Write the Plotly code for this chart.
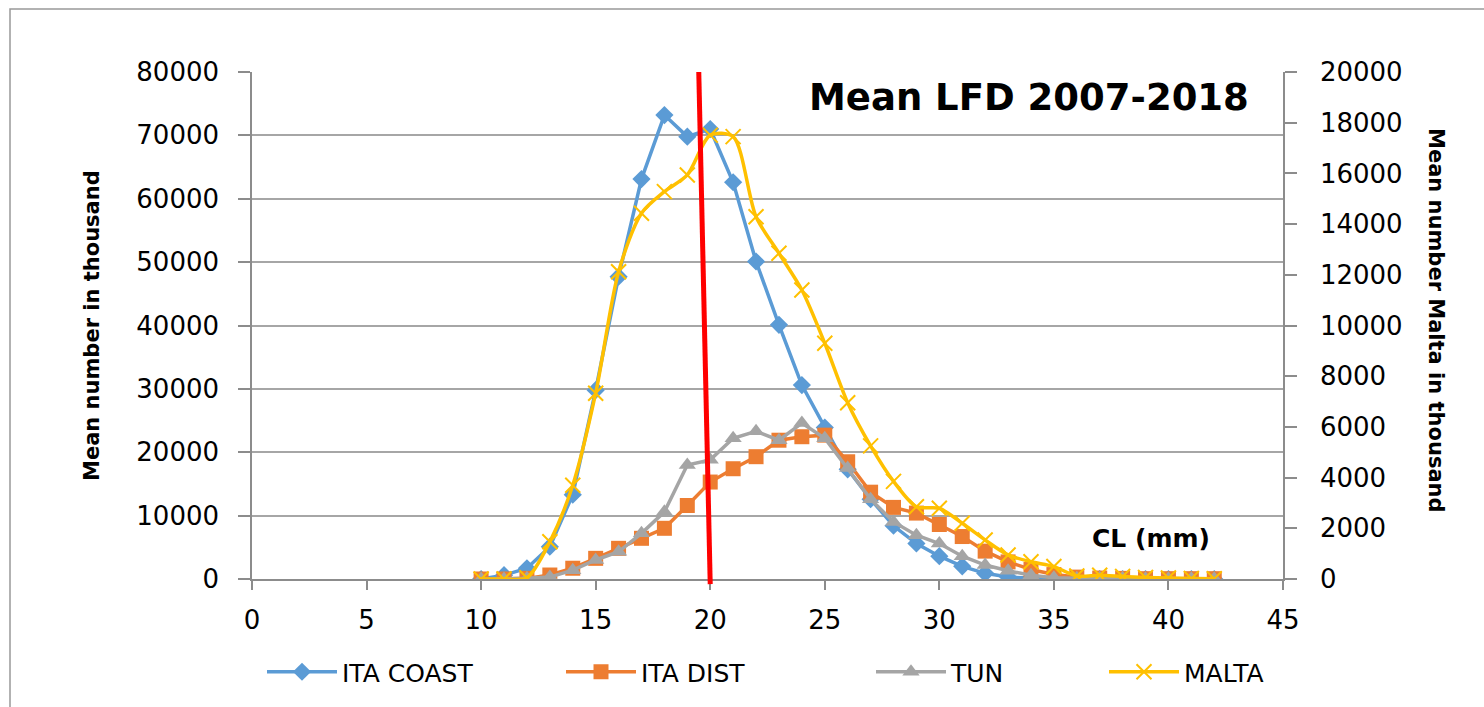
import plotly.graph_objects as go

# ---------------- data ----------------
cl_mm = list(range(10, 43))
ita_coast = [0, 600, 1700, 5100, 13300, 29800, 47700, 63100, 73200, 69800,
             71000, 62600, 50100, 40100, 30600, 23900, 17300, 12600, 8400, 5600,
             3600, 2000, 900, 300, 100, 0, 0, 0, 0, 0, 0, 0, 0]
ita_dist = [0, 0, 100, 630, 1700, 3260, 4840, 6420, 8000, 11600,
            15300, 17400, 19300, 21900, 22450, 22700, 18500, 13700, 11300, 10400,
            8600, 6700, 4400, 2700, 1500, 700, 300, 150, 100, 50, 50, 50, 50]
tun = [0, 0, 100, 300, 1400, 3000, 4300, 7200, 10600, 18000,
       18800, 22200, 23300, 21900, 24600, 22200, 17500, 12600, 9000, 6900,
       5600, 3600, 2200, 1300, 600, 200, 100, 100, 100, 50, 50, 50, 50]
malta = [0, 0, 50, 1470, 3700, 7330, 12120, 14430, 15280, 15940,
         17510, 17450, 14290, 12850, 11400, 9300, 6950, 5250, 3850, 2850,
         2790, 2200, 1540, 950, 680, 490, 120, 150, 100, 60, 40, 20, 10]
series_names = ["ITA COAST", "ITA DIST", "TUN", "MALTA"]
cutoff_x = [19.5, 20.0]          # red cut-off line (top, bottom)
x_ticks = list(range(0, 46, 5))
y_left_ticks = list(range(0, 80001, 10000))
y_right_ticks = list(range(0, 20001, 2000))
chart_title = "Mean LFD 2007-2018"
x_title = "CL (mm)"
y_left_title = "Mean number in thousand"
y_right_title = "Mean number Malta in thousand"

# ---------------- styles ----------------
C_BLUE, C_ORANGE, C_GRAY, C_YELLOW = "#5B9BD5", "#ED7D31", "#A5A5A5", "#FFC000"
AX = "#8c8c8c"
FONT = "DejaVu Sans"
TICK_SIZE = 26

fig = go.Figure()
fig.add_trace(go.Scatter(x=cl_mm, y=ita_coast, name=series_names[0], mode="lines+markers",
                         line=dict(color=C_BLUE, width=3.5),
                         marker=dict(symbol="diamond", size=14, color=C_BLUE),
                         legend="legend"))
fig.add_trace(go.Scatter(x=cl_mm, y=ita_dist, name=series_names[1], mode="lines+markers",
                         line=dict(color=C_ORANGE, width=3.5),
                         marker=dict(symbol="square", size=15, color=C_ORANGE),
                         legend="legend2"))
fig.add_trace(go.Scatter(x=cl_mm, y=tun, name=series_names[2], mode="lines+markers",
                         line=dict(color=C_GRAY, width=3.5),
                         marker=dict(symbol="triangle-up", size=15, color=C_GRAY),
                         legend="legend3"))
fig.add_trace(go.Scatter(x=cl_mm, y=malta, name=series_names[3], mode="lines+markers",
                         yaxis="y2",
                         line=dict(color=C_YELLOW, width=3.5, shape="spline", smoothing=0.8),
                         marker=dict(symbol="x-thin", size=15, color=C_YELLOW,
                                     line=dict(color=C_YELLOW, width=2)),
                         legend="legend4"))

L, R, T, B = 252, 201, 72, 128
W, H = 1484, 707
pw, ph = W - L - R, H - T - B


def px_x(p):
    return (p - L) / pw


def px_y(p):
    return (H - B - p) / ph


legend_common = dict(orientation="h", yanchor="middle", xanchor="left",
                     font=dict(family=FONT, size=25, color="black"),
                     bgcolor="rgba(0,0,0,0)", itemwidth=70, y=px_y(672))

fig.update_layout(
    width=W, height=H,
    margin=dict(l=L, r=R, t=T, b=B, autoexpand=False),
    paper_bgcolor="white", plot_bgcolor="white",
    font=dict(family=FONT, size=25, color="black"),
    xaxis=dict(range=[0, 45], tickvals=x_ticks, ticks="outside", ticklen=9,
               tickcolor=AX, tickwidth=1.5, showline=True, linecolor=AX, linewidth=1.5,
               showgrid=False, zeroline=False,
               tickfont=dict(family=FONT, size=TICK_SIZE), ticklabelstandoff=8),
    yaxis=dict(range=[0, 80000], tickvals=y_left_ticks, tickformat="d", ticks="outside",
               ticklen=12, tickcolor=AX, tickwidth=1.5, showline=True, linecolor=AX,
               linewidth=1.5, showgrid=True, gridcolor="#a6a6a6", gridwidth=1.5,
               zeroline=False, tickfont=dict(family=FONT, size=TICK_SIZE),
               ticklabelstandoff=14),
    yaxis2=dict(range=[0, 20000], tickvals=y_right_ticks, tickformat="d", overlaying="y",
                side="right", ticks="outside", ticklen=12, tickcolor=AX, tickwidth=1.5,
                showline=True, linecolor=AX, linewidth=1.5, showgrid=False, zeroline=False,
                tickfont=dict(family=FONT, size=TICK_SIZE), ticklabelstandoff=18),
    legend=dict(legend_common, x=px_x(262)),
    legend2=dict(legend_common, x=px_x(561)),
    legend3=dict(legend_common, x=px_x(871)),
    legend4=dict(legend_common, x=px_x(1104)),
    showlegend=True,
)

fig.add_shape(type="line", xref="x", yref="paper", x0=cutoff_x[0], y0=1,
              x1=cutoff_x[1], y1=-0.01, line=dict(color="#FF0000", width=5), layer="above")

# outer chart border
fig.add_shape(type="rect", xref="paper", yref="paper",
              x0=px_x(10), y0=px_y(720), x1=px_x(1500), y1=px_y(9),
              line=dict(color="#999999", width=1.5), layer="below")

fig.add_annotation(text=chart_title, xref="paper", yref="paper",
                   x=px_x(1029), y=px_y(97), showarrow=False,
                   font=dict(family=FONT, size=37, color="black", weight="bold"),
                   xanchor="center", yanchor="middle")
fig.add_annotation(text=x_title, xref="paper", yref="paper",
                   x=px_x(1151), y=px_y(538), showarrow=False,
                   font=dict(family=FONT, size=25, color="black", weight="bold"),
                   xanchor="center", yanchor="middle")
fig.add_annotation(text=y_left_title, xref="paper", yref="paper",
                   x=px_x(92), y=px_y(326), showarrow=False, textangle=-90,
                   font=dict(family=FONT, size=21, color="black", weight="bold"),
                   xanchor="center", yanchor="middle")
fig.add_annotation(text=y_right_title, xref="paper", yref="paper",
                   x=px_x(1436), y=px_y(320), showarrow=False, textangle=90,
                   font=dict(family=FONT, size=21, color="black", weight="bold"),
                   xanchor="center", yanchor="middle")

fig.write_html("out.html")
